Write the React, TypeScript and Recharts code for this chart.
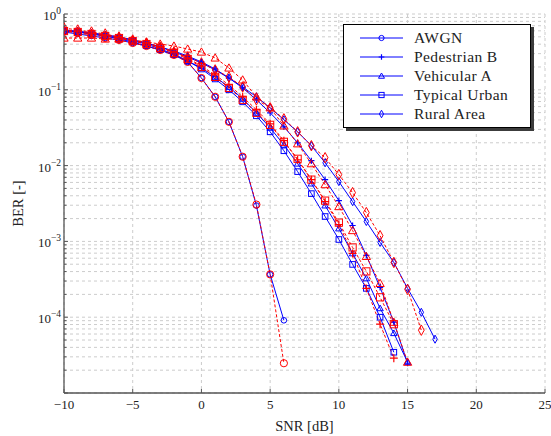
import { LineChart, Line, XAxis, YAxis, CartesianGrid, Legend } from 'recharts';

const FONT = "'Liberation Serif', 'DejaVu Serif', serif";
const BLUE = '#0000ff';
const RED = '#ff0000';

const snr = [-10, -9, -8, -7, -6, -5, -4, -3, -2, -1, 0, 1, 2, 3, 4, 5, 6, 7, 8, 9, 10, 11, 12, 13, 14, 15, 16, 17];
const xTicks = [-10, -5, 0, 5, 10, 15, 20, 25];
const decades = [1e-5, 1e-4, 1e-3, 1e-2, 1e-1];
const mantissas = [1, 2, 3, 4, 5, 6, 7, 8, 9];
const labelledExps = [0, -1, -2, -3, -4];

// blue solid = simulated, red dashed = reference
const awgnSim = [0.579, 0.545, 0.513, 0.482, 0.454, 0.414, 0.378, 0.335, 0.288, 0.233, 0.143, 0.0808, 0.0378, 0.0131, 0.00297, 3.67e-4, 9.1e-5];
const awgnRef = [0.596, 0.561, 0.528, 0.482, 0.454, 0.414, 0.378, 0.335, 0.288, 0.233, 0.143, 0.0808, 0.0378, 0.0131, 0.00306, 3.67e-4, 2.47e-5];

const pedBSim = [0.596, 0.579, 0.561, 0.528, 0.497, 0.454, 0.414, 0.367, 0.325, 0.279, 0.233, 0.188, 0.143, 0.106, 0.0738, 0.0497, 0.0325, 0.02, 0.0116, 0.00653, 0.00345, 0.00162, 6.53e-4, 2.47e-4, 8.59e-5, 2.47e-5];
const pedBRef = [0.615, 0.596, 0.561, 0.528, 0.497, 0.454, 0.414, 0.367, 0.315, 0.263, 0.206, 0.157, 0.116, 0.0808, 0.0545, 0.0356, 0.0213, 0.0119, 0.00653, 0.00335, 0.00167, 6.94e-4, 2.4e-4, 8.08e-5, 2.88e-5];

const vehASim = [0.596, 0.579, 0.545, 0.513, 0.468, 0.427, 0.378, 0.335, 0.288, 0.24, 0.194, 0.148, 0.109, 0.0761, 0.0497, 0.0315, 0.0188, 0.0106, 0.00579, 0.00297, 0.00148, 6.94e-4, 3.25e-4, 1.31e-4, 6.15e-5, 2.55e-5];
const vehARef = [0.482, 0.482, 0.482, 0.468, 0.468, 0.454, 0.427, 0.402, 0.378, 0.345, 0.315, 0.263, 0.194, 0.135, 0.0808, 0.0579, 0.0335, 0.0194, 0.0106, 0.00561, 0.00288, 0.00139, 6.34e-4, 2.79e-4, 8.59e-5, 2.55e-5];

const typUrbSim = [0.596, 0.579, 0.545, 0.513, 0.482, 0.44, 0.402, 0.345, 0.297, 0.24, 0.188, 0.139, 0.1, 0.0694, 0.0454, 0.0279, 0.0157, 0.00833, 0.00427, 0.00213, 0.00106, 4.97e-4, 2.4e-4, 1e-4, 3.45e-5];
const typUrbRef = [0.596, 0.579, 0.545, 0.513, 0.482, 0.44, 0.402, 0.356, 0.306, 0.255, 0.2, 0.148, 0.106, 0.0738, 0.0497, 0.0345, 0.0206, 0.0123, 0.00653, 0.00345, 0.00177, 8.33e-4, 4.02e-4, 1.83e-4, 8.08e-5];

const ruralSim = [0.615, 0.596, 0.561, 0.528, 0.497, 0.454, 0.414, 0.367, 0.315, 0.271, 0.226, 0.183, 0.143, 0.109, 0.0808, 0.0579, 0.0402, 0.0279, 0.0183, 0.0109, 0.00615, 0.00335, 0.00183, 9.7e-4, 5.28e-4, 2.4e-4, 1.16e-4, 5.13e-5];
const ruralRef = [0.653, 0.615, 0.579, 0.545, 0.497, 0.454, 0.414, 0.367, 0.315, 0.271, 0.226, 0.183, 0.148, 0.109, 0.0738, 0.0579, 0.0414, 0.0279, 0.0183, 0.0127, 0.00761, 0.0044, 0.0024, 0.00119, 5.28e-4, 2.33e-4, 6.74e-5];

const yTicks = [...decades.flatMap((d) => mantissas.map((m) => m * d)), 1];

const pts = (vals: number[]) => vals.map((ber, i) => ({ snr: snr[i], ber }));

type Shape = 'circle' | 'plus' | 'triangle' | 'square' | 'diamond';

function Marker({ cx, cy, shape, color, s }: { cx: number; cy: number; shape: Shape; color: string; s: number }) {
  const common = { stroke: color, strokeWidth: 1, fill: 'none' };
  if (shape === 'circle') return <circle cx={cx} cy={cy} r={s} {...common} />;
  if (shape === 'square') return <rect x={cx - s} y={cy - s} width={2 * s} height={2 * s} {...common} />;
  if (shape === 'triangle') {
    const h = s * 1.15;
    return <polygon points={`${cx},${cy - h} ${cx + h},${cy + h * 0.75} ${cx - h},${cy + h * 0.75}`} {...common} />;
  }
  if (shape === 'diamond') {
    const w = s * 0.8;
    const h = s * 1.45;
    return <polygon points={`${cx},${cy - h} ${cx + w},${cy} ${cx},${cy + h} ${cx - w},${cy}`} {...common} />;
  }
  const p = s * 1.1;
  return (
    <path d={`M${cx - p},${cy}H${cx + p}M${cx},${cy - p}V${cy + p}`} stroke={color} strokeWidth={1.2} fill="none" />
  );
}

const series: { name: string; shape: Shape; sim: number[]; ref: number[] }[] = [
  { name: 'AWGN', shape: 'circle', sim: awgnSim, ref: awgnRef },
  { name: 'Pedestrian B', shape: 'plus', sim: pedBSim, ref: pedBRef },
  { name: 'Vehicular A', shape: 'triangle', sim: vehASim, ref: vehARef },
  { name: 'Typical Urban', shape: 'square', sim: typUrbSim, ref: typUrbRef },
  { name: 'Rural Area', shape: 'diamond', sim: ruralSim, ref: ruralRef },
];

function YTick({ x, y, payload }: any) {
  const lg = Math.log10(payload.value);
  const exp = Math.round(lg);
  const major = Math.abs(lg - exp) < 1e-6;
  const showLabel = major && labelledExps.includes(exp);
  return (
    <g>
      <line x1={x} x2={x + (major ? 4 : 2.5)} y1={y} y2={y} stroke="#555" strokeWidth={1} />
      {showLabel && (
        <text x={x - 3} y={y + 6} textAnchor="end" style={{ fontFamily: FONT }} fontSize={13} fill="#222">
          10
          <tspan dy={-6} fontSize={9.5}>{exp === 0 ? '0' : `\u2212${-exp}`}</tspan>
        </text>
      )}
    </g>
  );
}

function XTick({ x, y, payload }: any) {
  const v = payload.value;
  return (
    <g>
      <line x1={x} x2={x} y1={y} y2={y - 4} stroke="#555" strokeWidth={1} />
      <text x={x} y={y + 16} textAnchor="middle" style={{ fontFamily: FONT }} fontSize={13} fill="#222">
        {v < 0 ? `\u2212${-v}` : `${v}`}
      </text>
    </g>
  );
}

function LegendBox() {
  return (
    <div
      style={{
        width: 188,
        height: 104,
        border: '1px solid #000',
        background: '#fff',
        boxShadow: '3px 3px 0 #3c3c3c',
        boxSizing: 'border-box',
        paddingTop: 4,
      }}
    >
      {series.map((s) => (
        <div key={s.name} style={{ display: 'flex', alignItems: 'center', height: 18.8 }}>
          <svg width={70} height={18} style={{ flex: 'none' }}>
            <line x1={16} x2={59} y1={9} y2={9} stroke={BLUE} strokeWidth={1} />
            <Marker cx={37.5} cy={9} shape={s.shape} color={BLUE} s={2.6} />
          </svg>
          <span style={{ fontFamily: FONT, fontSize: 15.5, letterSpacing: 0.4, color: '#222', lineHeight: '18px' }}>
            {s.name}
          </span>
        </div>
      ))}
    </div>
  );
}

export default function App() {
  return (
    <div style={{ position: 'absolute', left: 0, top: 0, background: '#fff' }}>
      <LineChart width={551} height={436} margin={{ top: 14, right: 6, left: 0, bottom: 0 }}>
        <CartesianGrid strokeDasharray="3 3" stroke="#cccccc" />
        <XAxis
          type="number"
          dataKey="snr"
          domain={[-10, 25]}
          ticks={xTicks}
          interval={0}
          allowDataOverflow
          height={43}
          tickSize={0}
          tickMargin={0}
          tickLine={false}
          axisLine={{ stroke: '#555', strokeWidth: 1.3 }}
          tick={<XTick />}
          label={{ value: 'SNR [dB]', position: 'insideBottom', offset: 5, style: { fontFamily: FONT, fontSize: 14.5, fill: '#222' } }}
        />
        <YAxis
          type="number"
          dataKey="ber"
          scale="log"
          domain={[1e-5, 1]}
          ticks={yTicks}
          interval={0}
          allowDataOverflow
          width={64}
          tickSize={0}
          tickMargin={0}
          tickLine={false}
          axisLine={{ stroke: '#555', strokeWidth: 1.3 }}
          tick={<YTick />}
          label={{
            value: 'BER [-]',
            angle: -90,
            position: 'insideLeft',
            offset: 18,
            style: { fontFamily: FONT, fontSize: 14.5, fill: '#222', textAnchor: 'middle' },
          }}
        />
        <Legend
          layout="vertical"
          align="center"
          verticalAlign="middle"
          wrapperStyle={{ top: 24, left: 343, width: 192, height: 108 }}
          content={() => <LegendBox />}
        />
        {series.map((s) => (
          <Line
            key={`${s.name}-sim`}
            data={pts(s.sim)}
            dataKey="ber"
            name={s.name}
            stroke={BLUE}
            strokeWidth={1}
            isAnimationActive={false}
            activeDot={false}
            dot={(p: any) => <Marker key={`${s.name}-sim-${p.index}`} cx={p.cx} cy={p.cy} shape={s.shape} color={BLUE} s={2.8} />}
          />
        ))}
        {series.map((s) => (
          <Line
            key={`${s.name}-ref`}
            data={pts(s.ref)}
            dataKey="ber"
            name={`${s.name} ref`}
            legendType="none"
            stroke={RED}
            strokeWidth={1}
            strokeDasharray="3 2"
            isAnimationActive={false}
            activeDot={false}
            dot={(p: any) => <Marker key={`${s.name}-ref-${p.index}`} cx={p.cx} cy={p.cy} shape={s.shape} color={RED} s={3.6} />}
          />
        ))}
      </LineChart>
    </div>
  );
}
